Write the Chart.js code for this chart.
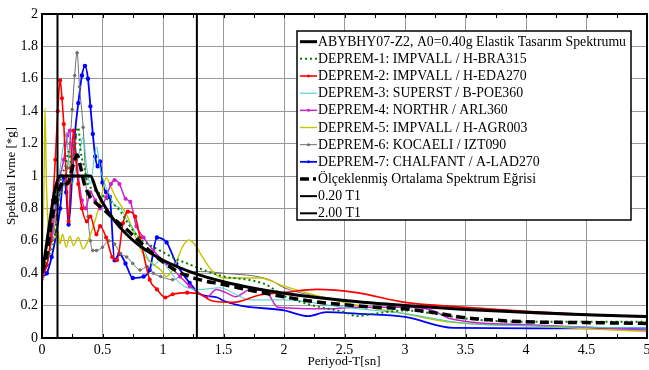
<!DOCTYPE html>
<html>
<head>
<meta charset="utf-8">
<script src="https://cdn.jsdelivr.net/npm/chart.js@4.4.0/dist/chart.umd.min.js"></script>
<style>
html, body { margin: 0; padding: 0; background: #fff; }
</style>
</head>
<body>
<canvas id="spektrum" width="649" height="370"></canvas>
<script>
// periyot (sn) ve spektral ivme (g) degerleri
const tasT  = [0, 0.15, 0.4, 0.45, 0.5, 0.6, 0.7, 0.8, 0.9, 1.0, 1.25, 1.5, 1.75, 2, 2.5, 3, 3.5, 4, 4.5, 5]
const tasSa = [0.40, 1.00, 1.00, 0.91, 0.837, 0.723, 0.639, 0.574, 0.523, 0.480, 0.402, 0.347, 0.307, 0.276, 0.231, 0.200, 0.176, 0.159, 0.144, 0.133]

const ortT  = [0, 0.04, 0.08, 0.12, 0.15, 0.18, 0.21, 0.24, 0.27, 0.29, 0.32, 0.35, 0.4, 0.45, 0.5, 0.6, 0.7, 0.8, 0.9, 1.0, 1.1, 1.2, 1.3, 1.5, 1.75, 2, 2.25, 2.5, 2.75, 3, 3.25, 3.5, 3.75, 4, 4.5, 5]
const ortSa = [0.40, 0.52, 0.72, 0.88, 0.93, 0.97, 0.95, 1.02, 1.10, 1.13, 1.05, 0.95, 0.87, 0.83, 0.80, 0.73, 0.67, 0.60, 0.53, 0.47, 0.42, 0.385, 0.36, 0.33, 0.29, 0.255, 0.225, 0.205, 0.19, 0.18, 0.155, 0.125, 0.11, 0.10, 0.095, 0.09]

const d1T  = [0, 0.05, 0.1, 0.13, 0.16, 0.19, 0.22, 0.25, 0.28, 0.3, 0.32, 0.35, 0.38, 0.42, 0.46, 0.5, 0.55, 0.6, 0.65, 0.7, 0.8, 0.9, 1.0, 1.1, 1.2, 1.3, 1.5, 1.7, 1.85, 2.0, 2.15, 2.3, 2.5, 2.6, 2.75, 3.0, 3.25, 3.5, 4.0, 4.5, 5.0]
const d1Sa = [0.40, 0.50, 0.60, 0.80, 1.00, 1.05, 1.15, 1.05, 1.25, 1.30, 1.15, 1.05, 0.95, 0.92, 0.90, 0.88, 0.85, 0.82, 0.78, 0.72, 0.62, 0.57, 0.53, 0.49, 0.46, 0.43, 0.38, 0.36, 0.33, 0.26, 0.22, 0.19, 0.16, 0.135, 0.15, 0.17, 0.15, 0.12, 0.10, 0.10, 0.10]

const d2T  = [0, 0.04, 0.07, 0.09, 0.11, 0.13, 0.15, 0.165, 0.18, 0.2, 0.22, 0.24, 0.26, 0.28, 0.3, 0.33, 0.37, 0.4, 0.45, 0.48, 0.53, 0.58, 0.62, 0.67, 0.71, 0.77, 0.81, 0.89, 0.95, 1.02, 1.08, 1.2, 1.31, 1.4, 1.58, 1.8, 2.0, 2.27, 2.6, 3.0, 3.5, 4.0, 4.5, 5.0]
const d2Sa = [0.38, 0.45, 0.60, 0.85, 1.10, 1.40, 1.59, 1.48, 1.32, 1.00, 0.72, 1.05, 1.28, 1.10, 0.95, 0.80, 0.72, 0.75, 0.64, 0.69, 0.62, 0.50, 0.48, 0.71, 0.78, 0.75, 0.62, 0.36, 0.30, 0.25, 0.27, 0.28, 0.27, 0.23, 0.22, 0.265, 0.28, 0.30, 0.28, 0.22, 0.19, 0.165, 0.145, 0.13]

const d3T  = [0, 0.04, 0.08, 0.12, 0.15, 0.18, 0.2, 0.22, 0.25, 0.28, 0.31, 0.34, 0.37, 0.4, 0.43, 0.45, 0.48, 0.52, 0.56, 0.6, 0.65, 0.7, 0.75, 0.81, 0.87, 0.92, 0.98, 1.05, 1.11, 1.2, 1.31, 1.47, 1.6, 1.72, 2.0, 2.49, 3.0, 3.5, 4.06, 5.0]
const d3Sa = [0.40, 0.55, 0.70, 0.90, 1.05, 1.20, 1.27, 1.10, 0.95, 1.05, 1.15, 1.24, 1.05, 0.95, 1.10, 1.18, 1.05, 0.95, 0.88, 0.82, 0.80, 0.73, 0.68, 0.60, 0.50, 0.45, 0.48, 0.42, 0.36, 0.31, 0.30, 0.31, 0.27, 0.235, 0.235, 0.19, 0.15, 0.09, 0.075, 0.06]

const d4T  = [0, 0.04, 0.08, 0.12, 0.15, 0.18, 0.21, 0.23, 0.25, 0.27, 0.3, 0.33, 0.36, 0.4, 0.44, 0.48, 0.53, 0.57, 0.6, 0.64, 0.69, 0.73, 0.78, 0.84, 0.92, 1.03, 1.14, 1.22, 1.31, 1.36, 1.44, 1.52, 1.6, 1.72, 1.86, 1.95, 2.4, 2.57, 3.0, 3.23, 3.37, 4.06, 5.0]
const d4Sa = [0.38, 0.45, 0.62, 0.85, 1.00, 1.10, 1.25, 1.28, 1.05, 1.20, 1.00, 0.85, 0.80, 0.90, 0.85, 0.80, 0.87, 0.95, 0.975, 0.95, 0.86, 0.84, 0.69, 0.62, 0.54, 0.46, 0.38, 0.32, 0.27, 0.25, 0.30, 0.28, 0.255, 0.30, 0.28, 0.19, 0.18, 0.19, 0.19, 0.17, 0.12, 0.08, 0.05]

const d5T  = [0, 0.015, 0.025, 0.035, 0.05, 0.07, 0.09, 0.11, 0.13, 0.15, 0.17, 0.2, 0.23, 0.26, 0.3, 0.34, 0.38, 0.42, 0.46, 0.5, 0.53, 0.56, 0.6, 0.65, 0.7, 0.76, 0.82, 0.88, 0.93, 0.98, 1.03, 1.1, 1.16, 1.21, 1.26, 1.31, 1.4, 1.5, 1.8, 2.0, 2.49, 3.0, 3.35, 4.06, 5.0]
const d5Sa = [0.45, 0.90, 1.42, 1.00, 0.70, 0.60, 0.72, 0.62, 0.66, 0.58, 0.64, 0.56, 0.63, 0.57, 0.62, 0.55, 0.60, 0.68, 0.78, 0.90, 0.99, 0.95, 0.88, 0.82, 0.76, 0.65, 0.54, 0.48, 0.45, 0.42, 0.38, 0.45, 0.56, 0.605, 0.58, 0.52, 0.42, 0.37, 0.37, 0.32, 0.22, 0.15, 0.10, 0.074, 0.04]

const d6T  = [0, 0.04, 0.08, 0.12, 0.15, 0.18, 0.21, 0.23, 0.25, 0.27, 0.29, 0.31, 0.34, 0.36, 0.38, 0.4, 0.42, 0.45, 0.5, 0.55, 0.6, 0.65, 0.7, 0.75, 0.81, 0.87, 0.92, 0.98, 1.08, 1.14, 1.2, 1.31, 1.5, 1.88, 2.0, 2.49, 3.0, 3.5, 4.06, 5.0]
const d6Sa = [0.36, 0.45, 0.60, 0.75, 0.90, 0.95, 1.05, 1.20, 1.41, 1.62, 1.76, 1.55, 1.30, 1.00, 0.75, 0.60, 0.54, 0.54, 0.56, 0.60, 0.58, 0.52, 0.50, 0.46, 0.42, 0.44, 0.40, 0.38, 0.36, 0.38, 0.40, 0.41, 0.40, 0.36, 0.31, 0.235, 0.20, 0.18, 0.15, 0.13]

const d7T  = [0, 0.04, 0.08, 0.12, 0.15, 0.18, 0.2, 0.22, 0.25, 0.27, 0.3, 0.33, 0.355, 0.38, 0.4, 0.42, 0.44, 0.46, 0.48, 0.5, 0.53, 0.56, 0.6, 0.64, 0.69, 0.75, 0.84, 0.89, 0.95, 1.03, 1.11, 1.22, 1.31, 1.45, 1.5, 1.64, 2.0, 2.2, 2.35, 2.6, 3.0, 3.4, 4.06, 5.0]
const d7Sa = [0.38, 0.40, 0.50, 0.65, 0.80, 0.99, 0.90, 0.70, 1.00, 1.24, 1.45, 1.62, 1.68, 1.60, 1.43, 1.26, 1.12, 1.06, 1.09, 0.96, 0.90, 0.87, 0.48, 0.52, 0.46, 0.37, 0.38, 0.42, 0.62, 0.59, 0.46, 0.34, 0.27, 0.25, 0.23, 0.20, 0.17, 0.135, 0.16, 0.15, 0.13, 0.062, 0.06, 0.06]

const t02 = 0.128   // 0.20 T1
const t20 = 1.28    // 2.00 T1

const xTicks = [0, 0.5, 1, 1.5, 2, 2.5, 3, 3.5, 4, 4.5, 5]
const yTicks = [0, 0.2, 0.4, 0.6, 0.8, 1, 1.2, 1.4, 1.6, 1.8, 2]

const serif = '"Liberation Serif", "Times New Roman", serif'

function pts(T, S) {
    return T.map((t, i) => ({x: t, y: S[i]}))
}

function marker(limit) {
    return c => (c.raw && c.raw.x < limit) ? 1.3 : 0
}

function deprem(label, T, S, color, width, extra) {
    return Object.assign({
        label: label,
        data: pts(T, S),
        borderColor: color,
        backgroundColor: color,
        borderWidth: width,
        pointRadius: 0,
        cubicInterpolationMode: 'monotone',
        order: 2
    }, extra || {})
}

const datasets = [
    {label: 'ABYBHY07-Z2, A0=0.40g Elastik Tasarım Spektrumu', data: pts(tasT, tasSa), borderColor: '#000', backgroundColor: '#000',
        borderWidth: 3, pointRadius: 0, cubicInterpolationMode: 'monotone', order: 1},
    deprem('DEPREM-1: IMPVALL / H-BRA315', d1T, d1Sa, '#008000', 2, {borderDash: [2, 3]}),
    deprem('DEPREM-2: IMPVALL / H-EDA270', d2T, d2Sa, '#ff0000', 1.6, {pointRadius: marker(1.3)}),
    deprem('DEPREM-3: SUPERST / B-POE360', d3T, d3Sa, '#3cc8c8', 1),
    deprem('DEPREM-4: NORTHR / ARL360', d4T, d4Sa, '#cc22cc', 1.5, {pointRadius: marker(1.3)}),
    deprem('DEPREM-5: IMPVALL / H-AGR003', d5T, d5Sa, '#c4c400', 1.4),
    deprem('DEPREM-6: KOCAELI / IZT090', d6T, d6Sa, '#6e6e6e', 1, {pointRadius: marker(1.1)}),
    deprem('DEPREM-7: CHALFANT / A-LAD270', d7T, d7Sa, '#0000ff', 1.8, {pointRadius: marker(1.3)}),
    {label: 'Ölçeklenmiş Ortalama Spektrum Eğrisi', data: pts(ortT, ortSa), borderColor: '#000', backgroundColor: '#000',
        borderWidth: 3.5, borderDash: [9, 5], pointRadius: 0, cubicInterpolationMode: 'monotone', order: 0},
    {label: '0.20 T1', data: [{x: t02, y: 0}, {x: t02, y: 2}], borderColor: '#000', borderWidth: 2, pointRadius: 0, order: 0},
    {label: '2.00 T1', data: [{x: t20, y: 0}, {x: t20, y: 2}], borderColor: '#000', borderWidth: 2, pointRadius: 0, order: 0}
]

const cerceve = {
    id: 'cerceve',
    afterDraw(chart) {
        const ctx = chart.ctx
        const a = chart.chartArea
        const x = chart.scales.x
        ctx.save()
        ctx.strokeStyle = '#000'
        ctx.lineWidth = 1
        for (let t = 0.25; t < 5; t += 0.25) {
            const px = Math.round(x.getPixelForValue(t)) + 0.5
            ctx.beginPath()
            ctx.moveTo(px, a.bottom); ctx.lineTo(px, a.bottom - 4)
            ctx.moveTo(px, a.top); ctx.lineTo(px, a.top + 4)
            ctx.stroke()
        }
        ctx.lineWidth = 2
        ctx.strokeRect(a.left, a.top, a.right - a.left, a.bottom - a.top)

        // eksen basliklari
        ctx.fillStyle = '#000'
        ctx.font = '13px ' + serif
        ctx.textAlign = 'center'
        ctx.textBaseline = 'middle'
        ctx.fillText('Periyod-T[sn]', 344, 362)
        ctx.save()
        ctx.translate(12, 176)
        ctx.rotate(-Math.PI / 2)
        ctx.fillText('Spektral Ivme [*g]', 0, 0)
        ctx.restore()

        // lejant
        const bx = 297, by = 31, bw = 334, bh = 189
        ctx.fillStyle = '#fff'
        ctx.fillRect(bx, by, bw, bh)
        ctx.lineWidth = 1.5
        ctx.strokeStyle = '#000'
        ctx.strokeRect(bx, by, bw, bh)
        ctx.font = '13.8px ' + serif
        ctx.textAlign = 'left'
        chart.data.datasets.forEach((d, i) => {
            const cy = 41.7 + i * 17.16
            ctx.strokeStyle = d.borderColor
            ctx.lineWidth = Math.min(d.borderWidth, 3)
            if (i === 8) {
                ctx.setLineDash([])
                ctx.lineWidth = 3.5
                ctx.beginPath(); ctx.moveTo(300, cy); ctx.lineTo(309, cy); ctx.stroke()
                ctx.beginPath(); ctx.moveTo(313, cy); ctx.lineTo(316, cy); ctx.stroke()
            } else {
                ctx.setLineDash(d.borderDash || [])
                ctx.beginPath(); ctx.moveTo(300, cy); ctx.lineTo(317, cy); ctx.stroke()
                ctx.setLineDash([])
            }
            if (typeof d.pointRadius === 'function') {
                ctx.fillStyle = d.borderColor
                ctx.beginPath(); ctx.arc(308.5, cy, 1.5, 0, Math.PI * 2); ctx.fill()
            }
            ctx.fillStyle = '#000'
            ctx.fillText(d.label, 318, cy + 0.5)
        })
        ctx.restore()
    }
}

new Chart(document.getElementById('spektrum'), {
    type: 'line',
    data: {datasets: datasets},
    options: {
        responsive: false,
        animation: false,
        devicePixelRatio: 1,
        layout: {autoPadding: false, padding: {top: 14, right: 2, left: 0, bottom: 0}},
        plugins: {legend: {display: false}, tooltip: {enabled: false}},
        scales: {
            x: {
                type: 'linear', min: 0, max: 5,
                afterFit: s => { s.height = 32; s.paddingLeft = 0; s.paddingRight = 0 },
                afterBuildTicks: s => { s.ticks = xTicks.map(v => ({value: v})) },
                grid: {color: '#9a9a9a', lineWidth: 1, drawTicks: false},
                border: {display: false},
                ticks: {color: '#000', font: {family: serif, size: 14}, padding: 4, maxRotation: 0, autoSkip: false,
                    callback: v => String(v)}
            },
            y: {
                min: 0, max: 2,
                afterFit: s => { s.width = 42; s.paddingTop = 0; s.paddingBottom = 0 },
                afterBuildTicks: s => { s.ticks = yTicks.map(v => ({value: v})) },
                grid: {color: '#9a9a9a', lineWidth: 1, drawTicks: false},
                border: {display: false},
                ticks: {color: '#000', font: {family: serif, size: 14}, padding: 4,
                    callback: v => String(Math.round(v * 10) / 10)}
            }
        }
    },
    plugins: [cerceve]
});
</script>
</body>
</html>
